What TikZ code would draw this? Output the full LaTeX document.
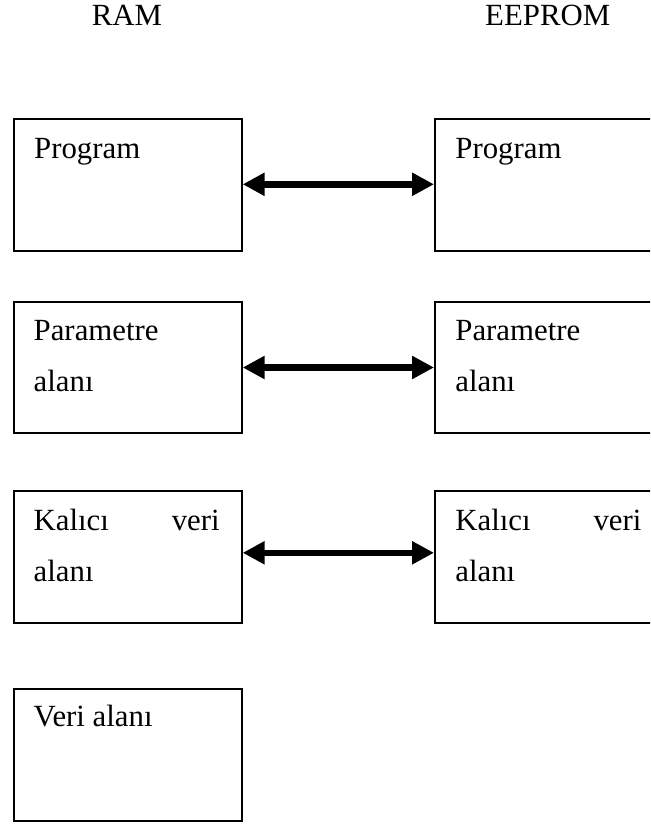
\documentclass[tikz,border=0pt]{standalone}
\usepackage{fontspec}
\setmainfont{Liberation Serif}
\usetikzlibrary{positioning,arrows.meta,calc}

\tikzset{
  mem/.style={draw,line width=1pt,minimum width=113.7pt,minimum height=65.8pt,
    inner sep=0pt,anchor=north west},
  txt/.style={inner sep=0pt,anchor=base west,font=\rmfamily\fontsize{15.4}{18}\selectfont},
  ttl/.style={inner sep=0pt,anchor=base,font=\rmfamily\fontsize{15.4}{18}\selectfont},
  link/.style={line width=3.3pt,{Triangle[length=11pt,width=11pt]}-{Triangle[length=11pt,width=11pt]}}
}

\begin{document}
\begin{tikzpicture}[x=0.5pt,y=-0.5pt]
  \clip (0,0) rectangle (650,825);
  % titles
  \node[ttl] (ramt) at (127,25) {RAM};
  \node[ttl] (eept) at (547.7,25) {EEPROM};
  % RAM side
  \node[mem] (ram1) at (13.3,118.3) {};
  \node[mem] (ram2) at (13.3,300.7) {};
  \node[mem] (ram3) at (13.3,490) {};
  \node[mem] (ram4) at (13.3,688.3) {};
  % EEPROM side
  \node[mem] (eep1) at (434,118.3) {};
  \node[mem] (eep2) at (434,300.7) {};
  \node[mem] (eep3) at (434,490) {};
  % texts
  \node[txt] (ramp) at ($(ram1.north west)+(20.5,40)$) {Program};
  \node[txt] (eepp) at ($(eep1.north west)+(21,40)$) {Program};
  \node[txt] (rama) at ($(ram2.north west)+(20,39.3)$) {Parametre};
  \node[txt] (ramb) at ($(ram2.north west)+(20,91)$) {alanı};
  \node[txt] (eepa) at ($(eep2.north west)+(21,39.3)$) {Parametre};
  \node[txt] (eepb) at ($(eep2.north west)+(21,91)$) {alanı};
  \node[txt] (ramk) at ($(ram3.north west)+(20,40)$) {\makebox[93pt][s]{Kalıcı\hfill veri}};
  \node[txt] (raml) at ($(ram3.north west)+(20,91.7)$) {alanı};
  \node[txt] (eepk) at ($(eep3.north west)+(21,40)$) {\makebox[93pt][s]{Kalıcı\hfill veri}};
  \node[txt] (eepl) at ($(eep3.north west)+(21,91.7)$) {alanı};
  \node[txt] (ramv) at ($(ram4.north west)+(20,38.4)$) {Veri alanı};
  % links
  \draw[link] ([yshift=0.4pt]ram1.east) -- ([yshift=0.4pt]eep1.west);
  \draw[link] (ram2.east) -- (eep2.west);
  \draw[link] ([yshift=2pt]ram3.east) -- ([yshift=2pt]eep3.west);
\end{tikzpicture}
\end{document}
